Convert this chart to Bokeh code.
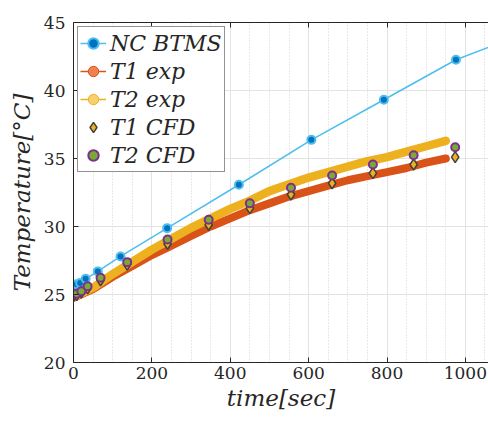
from bokeh.plotting import figure
from bokeh.models import Range1d, LinearAxis, Legend, LegendItem, SingleIntervalTicker, CustomJSTickFormatter
from bokeh.embed import file_html
from bokeh.resources import INLINE

# ---- data ----
nc_t = [0, 8, 17, 31, 62, 120, 239, 422, 607, 792, 976, 1161]
nc_T = [25.65, 25.75, 25.85, 26.15, 26.7, 27.8, 29.88, 33.07, 36.37, 39.32, 42.26, 44.3]

exp_t = [0, 50, 100, 150, 200, 250, 300, 350, 400, 450, 500, 550, 600, 650, 700, 750, 800, 850, 900, 950]
t1_exp = [24.75, 25.4, 26.3, 27.1, 27.9, 28.6, 29.3, 30.0, 30.6, 31.2, 31.7, 32.2, 32.6, 33.0, 33.4, 33.7, 34.0, 34.3, 34.7, 35.0]
t2_exp = [24.8, 25.5, 26.5, 27.4, 28.3, 29.1, 29.9, 30.6, 31.3, 31.9, 32.6, 33.1, 33.6, 34.0, 34.4, 34.8, 35.1, 35.5, 35.9, 36.3]

cfd_t = [0, 8, 20, 36, 69, 137, 240, 345, 450, 555, 660, 764, 868, 974]
t1_cfd = [24.9, 24.95, 25.15, 25.45, 26.05, 27.2, 28.73, 30.13, 31.35, 32.35, 33.18, 33.92, 34.56, 35.1]
t2_cfd = [25.0, 25.05, 25.24, 25.61, 26.23, 27.38, 29.04, 30.49, 31.71, 32.85, 33.75, 34.56, 35.24, 35.83]

labels = ["NC BTMS", "T1 exp", "T2 exp", "T1 CFD", "T2 CFD"]
NAN = [float("nan")]

# ---- style ----
C_BLUE_L = "#4DBEEE"
C_BLUE_D = "#0072BD"
C_RED = "#D95319"
C_YEL = "#EDB120"
C_GREEN = "#77AC30"
C_PURP = "#7E2F8E"
AX = "#262626"
SERIF = "DejaVu Serif"

p = figure(width=488, height=424, output_backend="svg", toolbar_location=None,
           x_range=Range1d(0, 1059), y_range=Range1d(20, 45))
p.min_border_left = 73
p.min_border_right = 0
p.min_border_top = 22
p.min_border_bottom = 62
p.outline_line_color = None
p.background_fill_color = "white"
p.border_fill_color = "white"

xt = SingleIntervalTicker(interval=200, num_minor_ticks=4)
yt = SingleIntervalTicker(interval=5, num_minor_ticks=0)
p.xaxis.ticker = xt
p.yaxis.ticker = yt
p.xgrid.ticker = xt
p.ygrid.ticker = yt

for ax in (p.xaxis[0], p.yaxis[0]):
    ax.axis_line_color = AX
    ax.major_tick_line_color = AX
    ax.major_tick_in = 5
    ax.major_tick_out = 0
    ax.minor_tick_in = 0
    ax.minor_tick_out = 0
    ax.major_label_text_font = SERIF
    ax.major_label_text_font_size = "17px"
    ax.major_label_text_color = AX
    ax.axis_label_text_font = SERIF
    ax.axis_label_text_font_style = "italic"
    ax.axis_label_text_font_size = "23px"
    ax.axis_label_text_color = AX

p.xaxis.axis_label = "time[sec]"
p.yaxis.axis_label = "Temperature[°C]"
p.xaxis.major_label_standoff = 4
p.xaxis.axis_label_standoff = 3
p.yaxis.major_label_standoff = 8
p.yaxis.axis_label_standoff = 6

top = LinearAxis(ticker=xt, axis_line_color=AX, major_tick_line_color=AX,
                 major_tick_in=5, major_tick_out=0, minor_tick_in=0, minor_tick_out=0,
                 formatter=CustomJSTickFormatter(code="return ''"),
                 major_label_standoff=0)
p.add_layout(top, "above")

p.xgrid.grid_line_color = "#e3e3e3"
p.ygrid.grid_line_color = "#e3e3e3"
p.xgrid.minor_grid_line_color = "#d2d2d2"
p.xgrid.minor_grid_line_dash = "1 2"

# ---- data glyphs ----
nc_line = p.line(nc_t, nc_T, line_color=C_BLUE_L, line_width=1.5)
nc_pts = p.scatter(nc_t, nc_T, marker="circle", size=8, fill_color=C_BLUE_D,
                   line_color=C_BLUE_L, line_width=2)

p.line(exp_t, t1_exp, line_color=C_RED, line_width=8, line_cap="round", line_join="round")
p.line(exp_t, t2_exp, line_color=C_YEL, line_width=8.5, line_cap="round", line_join="round")

t1c = p.scatter(cfd_t, t1_cfd, marker="diamond", size=11, fill_color=C_YEL,
                line_color="#404040", line_width=1.5)
t2c = p.scatter(cfd_t, t2_cfd, marker="circle", size=8, fill_color=C_GREEN,
                line_color=C_PURP, line_width=2)

# legend-only glyphs (no visible data)
l1 = p.line(NAN, NAN, line_color=C_RED, line_width=1.5)
m1 = p.scatter(NAN, NAN, marker="circle", size=4, fill_color="#F08050", line_color=C_RED, line_width=1)
l2 = p.line(NAN, NAN, line_color=C_YEL, line_width=1.5)
m2 = p.scatter(NAN, NAN, marker="circle", size=4, fill_color="#F8D070", line_color=C_YEL, line_width=1)

legend = Legend(items=[
    LegendItem(label=labels[0], renderers=[nc_line, nc_pts]),
    LegendItem(label=labels[1], renderers=[l1, m1]),
    LegendItem(label=labels[2], renderers=[l2, m2]),
    LegendItem(label=labels[3], renderers=[t1c]),
    LegendItem(label=labels[4], renderers=[t2c]),
], location="top_left")
legend.margin = 4
legend.padding = 2
legend.spacing = 0
legend.glyph_width = 26
legend.glyph_height = 28
legend.label_height = 28
legend.label_standoff = 4
legend.label_text_font = SERIF
legend.label_text_font_style = "italic"
legend.label_text_font_size = "22px"
legend.label_text_color = AX
legend.border_line_color = AX
legend.border_line_width = 1
legend.background_fill_color = "white"
legend.background_fill_alpha = 1
p.add_layout(legend, "center")

open("out.html", "w").write(file_html(p, INLINE))
